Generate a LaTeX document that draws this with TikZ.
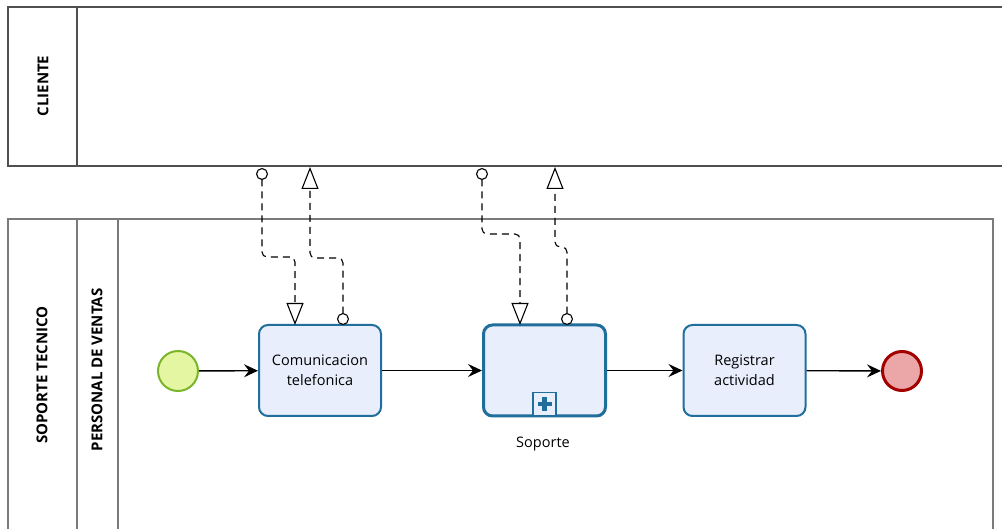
\documentclass[tikz,border=0pt]{standalone}
\usepackage{fontspec}
\setmainfont{Open Sans}
\usetikzlibrary{arrows.meta}
\definecolor{taskfill}{HTML}{E8EEFC}
\definecolor{taskline}{HTML}{1F6E9C}
\definecolor{startfill}{HTML}{E4F6A2}
\definecolor{startline}{HTML}{7AB52A}
\definecolor{endfill}{HTML}{EBA6A8}
\definecolor{endline}{HTML}{A30000}
\definecolor{poolline}{HTML}{505050}
\definecolor{laneline}{HTML}{7A7A7A}
\tikzset{
  pool/.style={draw=poolline, line width=1.5pt},
  lane/.style={draw=laneline, line width=1.3pt},
  lanelabel/.style={rotate=90, font=\fontsize{15}{18}\selectfont\bfseries, inner sep=0pt},
  task/.style={draw=taskline, fill=taskfill, line width=2pt, rounded corners=9pt,
    minimum width=122pt, minimum height=91pt, inner sep=0pt, align=center,
    font=\fontsize{14.5}{20}\selectfont},
  subproc/.style={task, line width=3pt},
  startev/.style={circle, draw=startline, fill=startfill, line width=2pt, minimum size=40pt, inner sep=0pt},
  endev/.style={circle, draw=endline, fill=endfill, line width=3pt, minimum size=39pt, inner sep=0pt},
  seq/.style={line width=1.4pt, -{Stealth[length=14pt, width=13pt, inset=5pt]}},
  msg/.style={line width=1.1pt, dash pattern=on 7pt off 5pt, rounded corners=5pt,
    {Circle[length=12pt, fill=white, line width=1.1pt]}-{Triangle[length=22pt, width=17pt, fill=white, line width=1.1pt]}},
  marker/.style={draw=taskline, line width=1.5pt, fill=taskfill, minimum size=23pt, inner sep=0pt}
}
\begin{document}
\begin{tikzpicture}[x=1pt, y=-1pt]
\useasboundingbox (0,0) rectangle (1002,529);
\fill[white] (0,0) rectangle (1002,529);

% Pool CLIENTE
\draw[pool] (1002,7) -- (8,7) -- (8,166) -- (1002,166);
\draw[pool] (77,7) -- (77,166);
\node[lanelabel] (cliente) at (43,86) {CLIENTE};

% Pool SOPORTE TECNICO with lane PERSONAL DE VENTAS
\draw[lane] (8,529) -- (8,219) -- (993,219) -- (993,529);
\draw[lane] (77,219) -- (77,529);
\draw[lane] (118,219) -- (118,529);
\node[lanelabel] (soporte) at (42,375) {SOPORTE TECNICO};
\node[lanelabel] (personal) at (97,370) {PERSONAL DE VENTAS};

% Flow elements
\node[startev] (start) at (178,371) {};
\node[task] (t1) at (320,370.5) {Comunicacion\\telefonica};
\node[subproc] (sub) at (544.5,370.5) {};
\node[marker] (plus) at (544.5,404) {};
\fill[taskline] (plus.center) ++(-7,-2.2) rectangle ++(14,4.4);
\fill[taskline] (plus.center) ++(-2.2,-7) rectangle ++(4.4,14);
\node[font=\fontsize{14.5}{18}\selectfont] (sublabel) at (543,444) {Soporte};
\node[task] (t3) at (744.5,370.5) {Registrar\\actividad};
\node[endev] (end) at (902,371) {};

% Sequence flows
\draw[seq] (start) -- (t1);
\draw[seq] (t1) -- (sub);
\draw[seq] (sub) -- (t3);
\draw[seq] (t3) -- (end);

% Message flows
\coordinate (m1s) at (262,168);
\coordinate (m1e) at (295,325);
\coordinate (m2s) at (343,325);
\coordinate (m2e) at (310,167);
\coordinate (m3s) at (482,168);
\coordinate (m3e) at (520,325);
\coordinate (m4s) at (567,325);
\coordinate (m4e) at (555,167);
\draw[msg] (m1s) -- (262,257) -- (295,257) -- (m1e);
\draw[msg] (m2s) -- (343,258) -- (310,258) -- (m2e);
\draw[msg] (m3s) -- (482,234) -- (520,234) -- (m3e);
\draw[msg] (m4s) -- (567,247) -- (555,247) -- (m4e);
\end{tikzpicture}
\end{document}
